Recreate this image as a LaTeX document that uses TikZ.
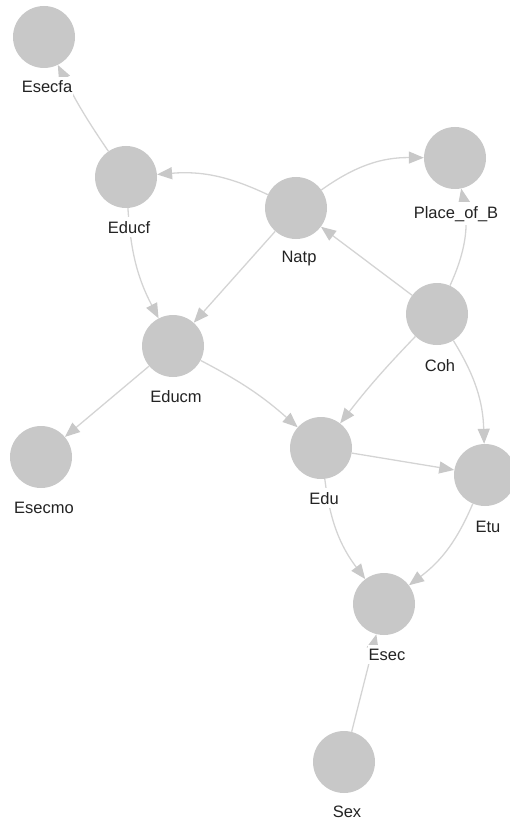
\documentclass[tikz,border=0pt]{standalone}
\usepackage{fontspec}
\setmainfont{Liberation Sans}
\usetikzlibrary{arrows.meta}
\definecolor{nodegray}{RGB}{200,200,200}
\definecolor{edgegray}{RGB}{212,212,212}
\definecolor{labelcol}{RGB}{35,35,35}
\tikzset{
  vnode/.style={circle, fill=nodegray, draw=none, minimum size=62pt, inner sep=0pt},
  vlabel/.style={anchor=base, fill=white, inner xsep=1pt, inner ysep=4pt, text=labelcol, font=\fontsize{16.5}{18}\selectfont},
  vedge/.style={draw=edgegray, line width=1.3pt, -{Triangle[length=15pt,width=12pt,fill=nodegray,color=nodegray]}}
}
\begin{document}
\begin{tikzpicture}[x=1pt,y=1pt]
\useasboundingbox (0,0) rectangle (509,-821);
% nodes
\node[vnode] (esecfa) at (44,-37) {};
\node[vnode] (educf)  at (126,-177) {};
\node[vnode] (natp)   at (296,-208) {};
\node[vnode] (place)  at (455,-158) {};
\node[vnode] (coh)    at (437,-314) {};
\node[vnode] (educm)  at (173,-346) {};
\node[vnode] (esecmo) at (41,-457) {};
\node[vnode] (edu)    at (321,-448) {};
\node[vnode] (etu)    at (485,-475) {};
\node[vnode] (esec)   at (384,-604) {};
\node[vnode] (sex)    at (344,-762) {};
% edges
\draw[vedge] (educf) to[bend left=4] (esecfa);
\draw[vedge] (natp) to[bend right=15] (educf);
\draw[vedge] (natp) to[bend left=18] (place);
\draw[vedge] (natp) -- (educm);
\draw[vedge] (educf) to[bend right=12] (educm);
\draw[vedge] (coh) -- (natp);
\draw[vedge] (coh) to[bend right=18] (place);
\draw[vedge] (coh) to[bend right=3] (edu);
\draw[vedge] (coh) to[bend left=15] (etu);
\draw[vedge] (educm) -- (esecmo);
\draw[vedge] (educm) to[bend left=7] (edu);
\draw[vedge] (edu) -- (etu);
\draw[vedge] (edu) to[bend right=15] (esec);
\draw[vedge] (etu) to[bend left=15] (esec);
\draw[vedge] (sex) -- (esec);
% labels
\node[vlabel] (lesecfa) at (47,-93) {Esecfa};
\node[vlabel] (leducf)  at (129,-233) {Educf};
\node[vlabel] (lnatp)   at (299,-262) {Natp};
\node[vlabel] (lplace)  at (456,-218) {Place\_of\_B};
\node[vlabel] (lcoh)    at (440,-371) {Coh};
\node[vlabel] (leducm)  at (176,-402) {Educm};
\node[vlabel] (lesecmo) at (44,-513) {Esecmo};
\node[vlabel] (ledu)    at (324,-504) {Edu};
\node[vlabel] (letu)    at (488,-532) {Etu};
\node[vlabel] (lesec)   at (387,-660) {Esec};
\node[vlabel] (lsex)    at (347,-817) {Sex};
\end{tikzpicture}
\end{document}
